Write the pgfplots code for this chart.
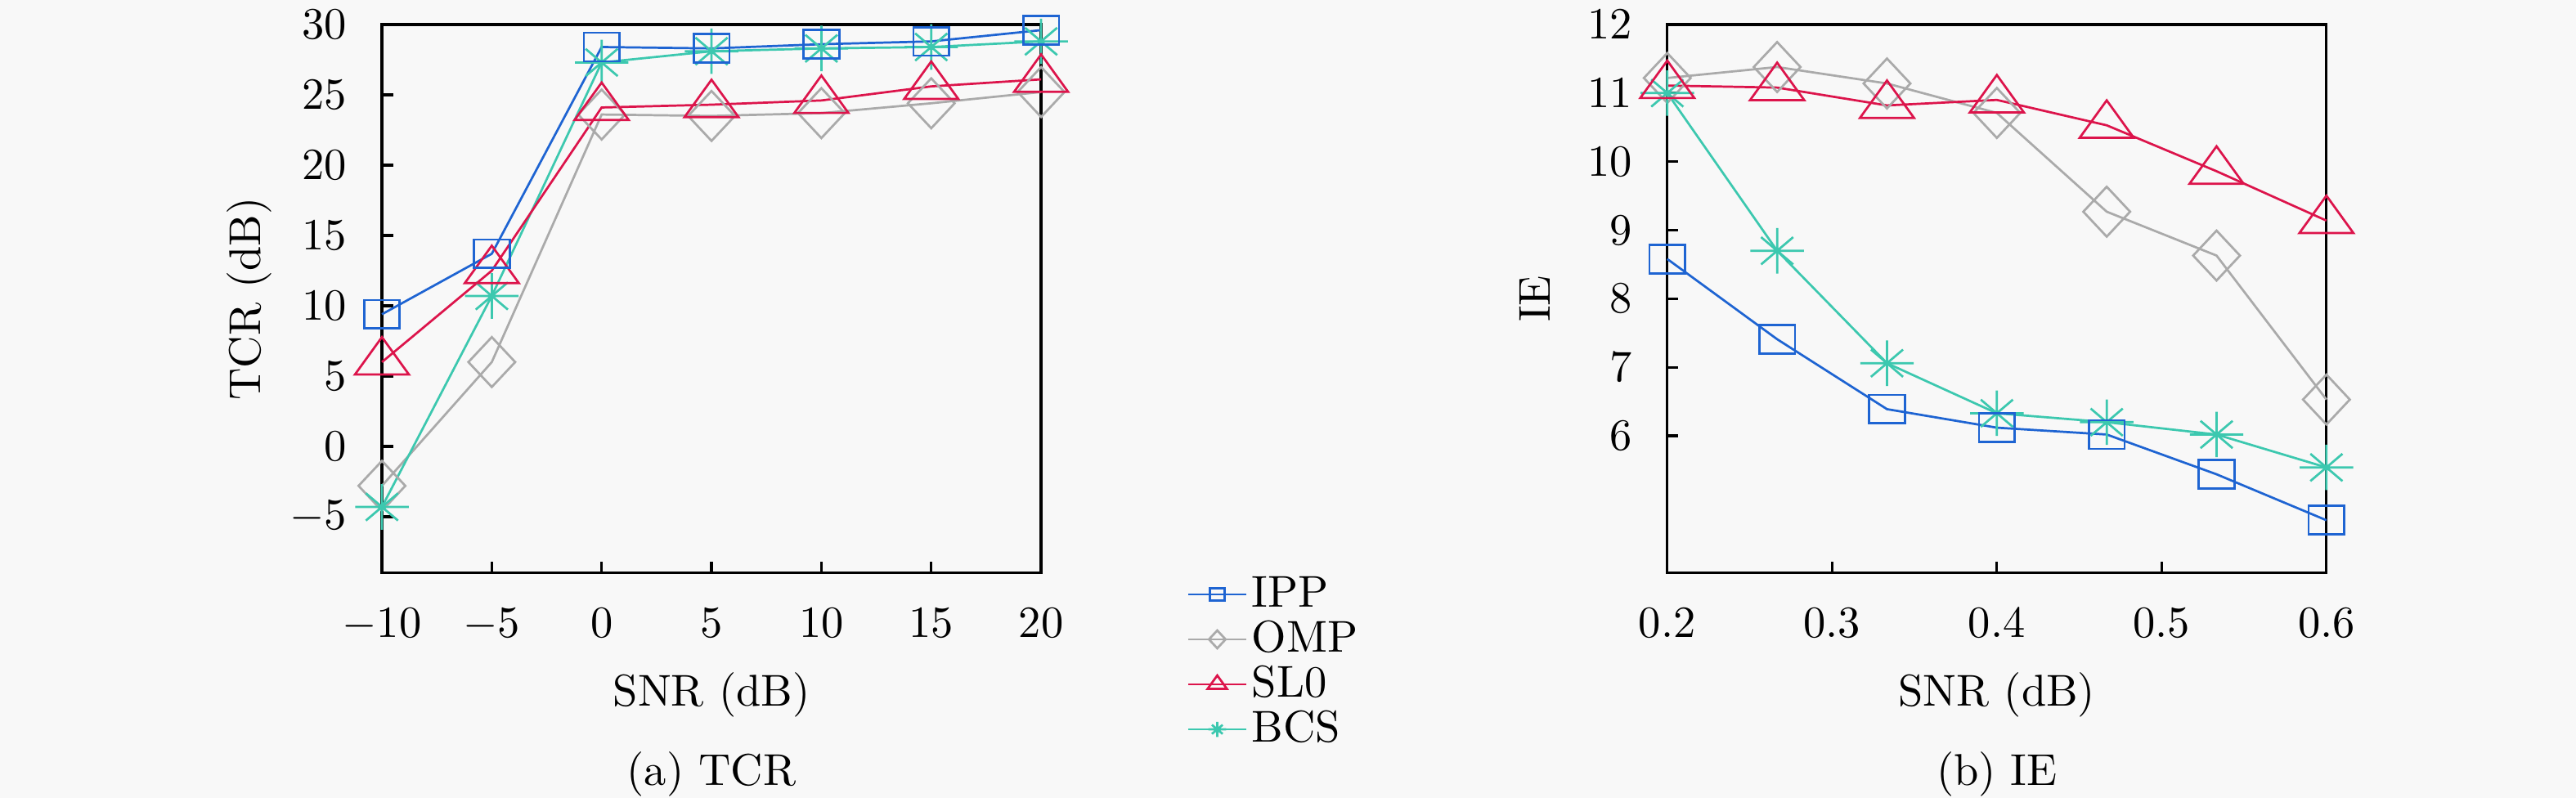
\documentclass[border=0pt]{standalone}
\usepackage{pgfplots}
\pgfplotsset{compat=1.18}

\definecolor{ippblue}{RGB}{30,100,210}
\definecolor{ompgray}{RGB}{170,170,170}
\definecolor{slred}{RGB}{220,20,75}
\definecolor{bcsteal}{RGB}{60,200,175}
\definecolor{bg}{RGB}{248,248,248}

% eight-armed star (plus + short diagonals)
\pgfdeclareplotmark{star8}{%
  \pgfpathmoveto{\pgfqpoint{-\pgfplotmarksize}{0pt}}%
  \pgfpathlineto{\pgfqpoint{\pgfplotmarksize}{0pt}}%
  \pgfpathmoveto{\pgfqpoint{0pt}{-\pgfplotmarksize}}%
  \pgfpathlineto{\pgfqpoint{0pt}{\pgfplotmarksize}}%
  \pgfpathmoveto{\pgfqpoint{-0.6\pgfplotmarksize}{-0.6\pgfplotmarksize}}%
  \pgfpathlineto{\pgfqpoint{0.6\pgfplotmarksize}{0.6\pgfplotmarksize}}%
  \pgfpathmoveto{\pgfqpoint{-0.6\pgfplotmarksize}{0.6\pgfplotmarksize}}%
  \pgfpathlineto{\pgfqpoint{0.6\pgfplotmarksize}{-0.6\pgfplotmarksize}}%
  \pgfusepathqstroke}

\pgfplotsset{
  common/.style={
    scale only axis, width=147.9pt, height=123.1pt,
    axis line style={line width=0.6pt},
    tick pos=left, tick align=inside,
    major tick length=2.5pt,
    major tick style={line width=0.6pt, black},
    xticklabel style={yshift=-4.5pt},
    yticklabel style={xshift=-4.4pt},
    xlabel={SNR (dB)},
    xlabel style={at={(axis description cs:0.5,-0.222)}, anchor=center},
    ylabel style={at={(axis description cs:-0.201,0.5)}, anchor=center},
    every axis plot/.append style={line width=0.5pt},
    clip=false,
  },
  ipp/.style={color=ippblue, mark=square, mark size=4pt, mark options={solid, yscale=0.8}},
  omp/.style={color=ompgray, mark=diamond, mark size=7pt, mark options={solid, yscale=0.8}},
  sl0/.style={color=slred, mark=triangle, mark size=7pt, mark options={solid, yscale=0.8}},
  bcs/.style={color=bcsteal, mark=star8, mark size=6pt, mark options={solid, yscale=0.85}},
}

\begin{document}
\begin{tikzpicture}
\fill[bg] (0,0) rectangle (578pt,179pt);
\useasboundingbox (0,0) rectangle (578pt,179pt);

\begin{axis}[common,
  at={(85.7pt,50.4pt)}, anchor=south west,
  xmin=-10, xmax=20, ymin=-9, ymax=30,
  xtick={-10,-5,...,20}, ytick={-5,0,...,30},
  ylabel={TCR (dB)},
  legend image code/.code={\draw[mark repeat=2,mark phase=2] plot coordinates {(0pt,0pt)(6.5pt,0pt)(13pt,0pt)};},
  legend cell align=left,
  legend style={at={(axis description cs:1.20,0.02)}, anchor=north west,
    draw=none, fill=none,
    nodes={inner sep=1pt, text height=6.9pt, text depth=1.2pt}},
]
\addplot[omp, forget plot] coordinates {(-10,-2.8)(-5,6.0)(0,23.6)(5,23.5)(10,23.7)(15,24.4)(20,25.2)};
\addplot[bcs, forget plot] coordinates {(-10,-4.3)(-5,10.7)(0,27.3)(5,28.1)(10,28.3)(15,28.4)(20,28.8)};
\addplot[sl0, forget plot] coordinates {(-10,6.0)(-5,12.5)(0,24.1)(5,24.3)(10,24.6)(15,25.6)(20,26.1)};
\addplot[ipp, forget plot] coordinates {(-10,9.4)(-5,13.7)(0,28.4)(5,28.3)(10,28.6)(15,28.8)(20,29.6)};
\addlegendimage{ipp, mark size=1.7pt}
\addlegendimage{omp, mark size=2.5pt}
\addlegendimage{sl0, mark size=2.5pt}
\addlegendimage{bcs, mark size=2pt}
\legend{IPP,OMP,SL0,BCS}
\end{axis}

\begin{axis}[common,
  at={(374.1pt,50.4pt)}, anchor=south west,
  xmin=0.2, xmax=0.6, ymin=4, ymax=12,
  xtick={0.2,0.3,0.4,0.5,0.6}, ytick={6,7,...,12},
  ylabel={IE},
]
\addplot[omp] coordinates {(0.2,11.22)(0.26667,11.38)(0.33333,11.14)(0.4,10.71)(0.46667,9.27)(0.53333,8.63)(0.6,6.53)};
\addplot[bcs] coordinates {(0.2,11.0)(0.26667,8.70)(0.33333,7.06)(0.4,6.33)(0.46667,6.2)(0.53333,6.02)(0.6,5.54)};
\addplot[sl0] coordinates {(0.2,11.11)(0.26667,11.08)(0.33333,10.82)(0.4,10.9)(0.46667,10.53)(0.53333,9.86)(0.6,9.14)};
\addplot[ipp] coordinates {(0.2,8.58)(0.26667,7.41)(0.33333,6.39)(0.4,6.12)(0.46667,6.02)(0.53333,5.44)(0.6,4.77)};
\end{axis}

\node at (159.65pt,5.2pt) {(a) TCR};
\node at (448.05pt,5.2pt) {(b) IE};
\end{tikzpicture}
\end{document}
